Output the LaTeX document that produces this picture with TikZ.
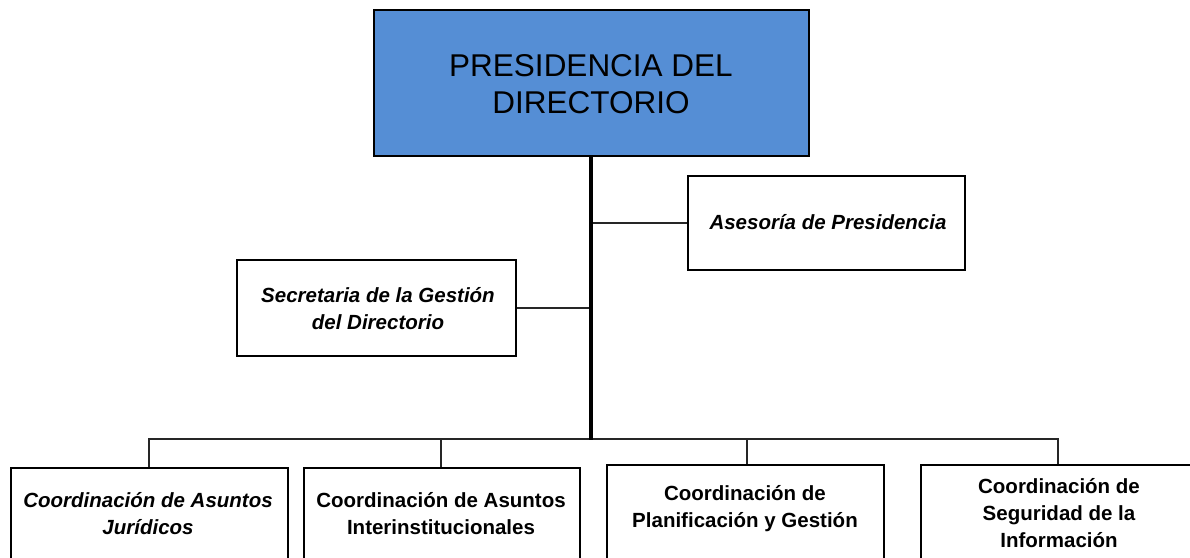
\documentclass[tikz,border=0pt]{standalone}
\usepackage{fontspec}
\setmainfont{Liberation Sans}
\begin{document}
\begin{tikzpicture}[x=1pt,y=-1pt,
  box/.style={draw=black, line width=1.6pt, fill=white, rectangle, inner sep=0pt, anchor=north west},
  conn/.style={draw=black!85, line width=1.7pt},
  trunk/.style={draw=black, line width=4.2pt},
  lbl/.style={align=center, inner sep=0pt, font=\fontsize{20.5}{27}\selectfont\bfseries},
  ilbl/.style={lbl, font=\fontsize{20.5}{27}\selectfont\bfseries\itshape},
  toplbl/.style={align=center, inner sep=0pt, font=\fontsize{31.5}{37}\selectfont}]
\useasboundingbox (0,0) rectangle (1190,557);
\clip (0,0) rectangle (1190,557);
% boxes
\node[box, fill={rgb,255:red,85;green,142;blue,213}, minimum width=435pt, minimum height=146pt] (pres) at (373,9) {};
\node[box, minimum width=277pt, minimum height=94pt] (ase) at (687,175) {};
\node[box, minimum width=279pt, minimum height=96pt] (sec) at (236,259) {};
\node[box, minimum width=277pt, minimum height=120pt] (b1) at (10,467) {};
\node[box, minimum width=276pt, minimum height=120pt] (b2) at (303,467) {};
\node[box, minimum width=277pt, minimum height=120pt] (b3) at (606,464) {};
\node[box, minimum width=300pt, minimum height=120pt] (b4) at (920,464) {};
% texts
\node[toplbl] (tpres) at (591,84) {PRESIDENCIA DEL\\DIRECTORIO};
\node[ilbl] (tase) at (828,222) {Asesoría de Presidencia};
\node[ilbl] (tsec) at (378,309) {Secretaria de la Gestión\\del Directorio};
\node[ilbl] (tb1) at (148,514) {Coordinación de Asuntos\\Jurídicos};
\node[lbl] (tb2) at (441,514) {Coordinación de Asuntos\\Interinstitucionales};
\node[lbl] (tb3) at (745,509) {Coordinación de\\Planificación y Gestión};
\node[lbl] (tb4) at (1059,513) {Coordinación de\\Seguridad de la\\Información};
% connectors
\coordinate (bus) at (591,439);
\coordinate (d1) at (149,439);
\coordinate (d2) at (441,439);
\coordinate (d3) at (747,439);
\coordinate (d4) at (1058,439);
\draw[conn] (sec.east) -- (sec.east -| bus);
\draw[conn] (ase.west -| bus) -- (ase.west);
\draw[conn] (d1 |- b1.north) -- (d1) -- (d4) -- (d4 |- b4.north);
\draw[conn] (d2) -- (d2 |- b2.north);
\draw[conn] (d3) -- (d3 |- b3.north);
\draw[trunk] (pres.south -| bus) -- ([yshift=-0.8pt]bus);
\end{tikzpicture}
\end{document}
